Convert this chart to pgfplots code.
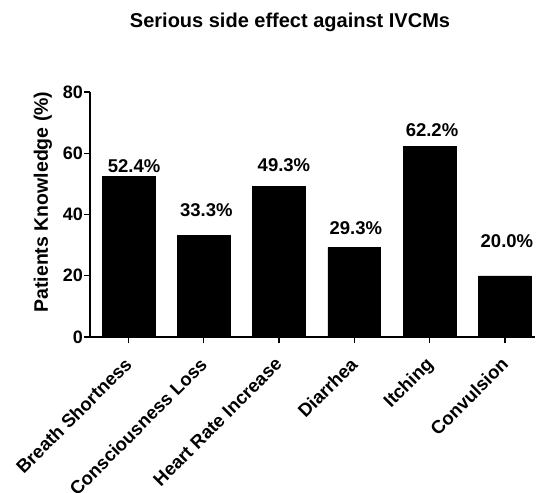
\documentclass[border=0pt]{standalone}
\usepackage{pgfplots}
\pgfplotsset{compat=1.18}
\usepackage{fontspec}
\setmainfont{Liberation Sans}
\begin{document}
\begin{tikzpicture}
\path[use as bounding box] (0,0) rectangle (536pt,493pt);
\node[font=\fontsize{20}{24}\selectfont\bfseries, anchor=base, inner sep=0pt] at (290pt,465pt) {Serious side effect against IVCMs};
\begin{axis}[
  at={(90pt,156pt)}, anchor=south west,
  scale only axis, width=445pt, height=245pt,
  xmin=-0.51, xmax=5.4, ymin=0, ymax=80,
  axis lines=left, axis line style={-, line width=1.6pt, black},
  ytick={0,20,40,60,80},
  xtick={0,1,2,3,4,5},
  xticklabels={Breath Shortness, Consciousness Loss, Heart Rate Increase, Diarrhea, Itching, Convulsion},
  tick align=outside, tick style={line width=1.4pt, black}, major tick length=6pt,
  /pgf/number format/assume math mode=true,
  ticklabel style={font=\fontsize{18}{20}\selectfont\bfseries},
  xticklabel style={xshift=-5pt, yshift=-13pt, rotate=45, anchor=north east, inner sep=0pt, font=\fontsize{18.5}{20}\selectfont\bfseries},
  yticklabel style={inner sep=1pt},
  ylabel={Patients Knowledge (\%)},
  ylabel style={at={(axis description cs:-0.106,0.551)}, anchor=center, font=\fontsize{19.5}{22}\selectfont\bfseries},
]
\addplot[ybar, fill=black, draw=black, bar width=0.7] coordinates {(0,52.4) (1,33.3) (2,49.3) (3,29.3) (4,62.2) (5,20.0)};
\addplot[draw=none, mark=none, nodes near coords, point meta=explicit symbolic,
  nodes near coords style={anchor=base, inner sep=0pt, font=\fontsize{18.5}{20}\selectfont\bfseries}]
  coordinates {(0.076,53.6)[52.4\%] (1.035,39.5)[33.3\%] (2.066,54.0)[49.3\%] (3.02,33.6)[29.3\%] (4.032,65.4)[62.2\%] (5.027,29.1)[20.0\%]};
\end{axis}
\end{tikzpicture}
\end{document}
